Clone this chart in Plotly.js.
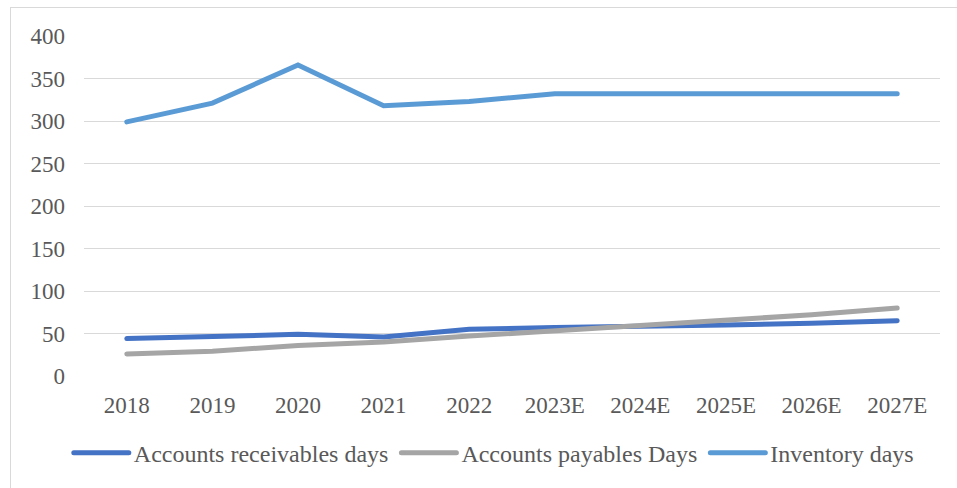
<!DOCTYPE html>
<html>
<head>
<meta charset="utf-8">
<script src="https://cdn.plot.ly/plotly-3.0.1.min.js"></script>
<style>
  html, body { margin: 0; padding: 0; background: #ffffff; overflow: hidden; }
  #frame {
    position: absolute; left: 10px; top: 7px;
    width: 1000px; height: 600px;
    border: 1px solid #d9d9d9; box-sizing: border-box;
  }
  #chart { position: absolute; left: 0; top: 0; width: 957px; height: 488px; }
</style>
</head>
<body>
<div id="frame"></div>
<div id="chart"></div>
<script>
// Working-capital days, actuals and estimates
const years = ['2018', '2019', '2020', '2021', '2022', '2023E', '2024E', '2025E', '2026E', '2027E'];
const receivableDays = [44, 47, 49, 46, 55, 57, 58, 60, 62, 65];
const payableDays = [26, 29, 36, 40, 47, 53, 59, 65, 72, 80];
const inventoryDays = [299, 321, 366, 318, 323, 332, 332, 332, 332, 332];
const yTicks = [0, 50, 100, 150, 200, 250, 300, 350, 400];

const serif = 'Liberation Serif, Times New Roman, serif';
const tickFont = { family: serif, size: 23, color: '#595959' };
const legendFont = { family: serif, size: 24, color: '#595959' };

function series(name, values, color) {
  return {
    type: 'scatter', mode: 'lines', name: name,
    x: years, y: values,
    line: { color: color, width: 5 },
    hoverinfo: 'skip'
  };
}

const data = [
  series('Accounts receivables days', receivableDays, '#4472C4'),
  series('Accounts payables Days', payableDays, '#A5A5A5'),
  series('Inventory days', inventoryDays, '#5B9BD5')
];

const layout = {
  width: 957, height: 488,
  margin: { l: 84, r: 17, t: 36, b: 112 },
  paper_bgcolor: 'rgba(0,0,0,0)',
  plot_bgcolor: 'rgba(0,0,0,0)',
  font: tickFont,
  showlegend: true,
  legend: {
    orientation: 'h', x: 0.477, xanchor: 'center', y: -0.227, yanchor: 'middle',
    font: legendFont, itemwidth: 58, tracegroupgap: 0
  },
  xaxis: {
    type: 'category', range: [-0.5, 9.5],
    showgrid: false, zeroline: false, showline: false,
    ticks: '', ticklabelstandoff: 13, tickfont: tickFont, fixedrange: true
  },
  yaxis: {
    range: [0, 400], tickvals: yTicks, ticktext: yTicks.map(String),
    showgrid: true, gridcolor: '#d9d9d9', gridwidth: 1,
    zeroline: false, showline: false,
    ticks: '', ticklabelstandoff: 18, tickfont: tickFont, fixedrange: true
  }
};

Plotly.newPlot('chart', data, layout, { displayModeBar: false, staticPlot: true }).then(function (gd) {
  // longer, round-capped legend swatches
  gd.querySelectorAll('.legend .legendlines path').forEach(function (p) {
    p.setAttribute('d', 'M8,0h55');
    p.style.strokeLinecap = 'round';
  });
  gd.querySelectorAll('.scatterlayer .js-line').forEach(function (p) {
    p.style.strokeLinecap = 'round';
  });
});
</script>
</body>
</html>
